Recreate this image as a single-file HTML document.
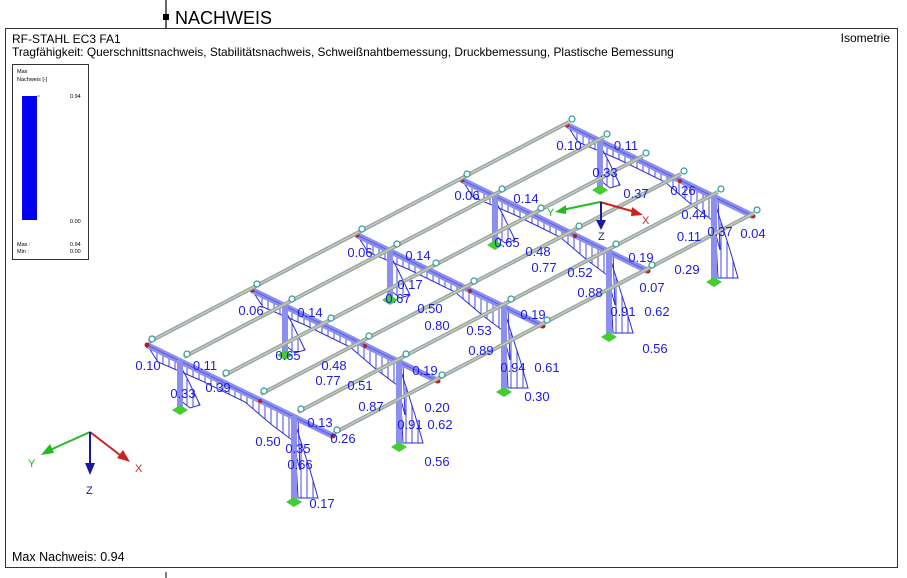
<!DOCTYPE html>
<html><head><meta charset="utf-8">
<style>
html,body{margin:0;padding:0;background:#fff;}
body{width:907px;height:578px;position:relative;overflow:hidden;font-family:"Liberation Sans",sans-serif;}
svg{position:absolute;left:0;top:0;}
</style></head><body>
<svg width="907" height="578" viewBox="0 0 907 578" xmlns="http://www.w3.org/2000/svg" font-family="Liberation Sans, sans-serif">
<defs>
<pattern id="h" width="6" height="6" patternUnits="userSpaceOnUse">
<line x1="1" y1="0" x2="1" y2="6" stroke="#3434e0" stroke-width="0.9"/>
</pattern>
<g id="fr">
<polygon points="147,345 158,362 200,380 245,402 272,425 292,440 300,470 298,418 333,436" fill="url(#h)" stroke="#2a2ae0" stroke-width="1"/>
<polygon points="180,365 188,380 200,405 190,408 180,400" fill="url(#h)" stroke="#2a2ae0" stroke-width="1"/>
<polygon points="294,420 310,470 318,498 298,498" fill="url(#h)" stroke="#2a2ae0" stroke-width="1"/>
<line x1="147" y1="345" x2="333" y2="436" stroke="#8c8ff0" stroke-width="6"/>
<line x1="147" y1="345" x2="333" y2="436" stroke="#5a5ee0" stroke-width="1"/>
<line x1="180" y1="360" x2="180" y2="408" stroke="#8c8ff0" stroke-width="6"/>
<line x1="294" y1="416" x2="294" y2="500" stroke="#8c8ff0" stroke-width="6"/>
<polygon points="172,410 180,405 188,410 180,415" fill="#44cc33"/>
<polygon points="286,502 294,497 302,502 294,507" fill="#44cc33"/>
<circle cx="147" cy="345" r="2.5" fill="#b02020"/>
<circle cx="333" cy="436" r="2.5" fill="#b02020"/>
<circle cx="260" cy="401" r="2" fill="#b02020"/>
</g>
<g id="pl">
<line x1="0" y1="0" x2="420" y2="-220" stroke="#9aa59c" stroke-width="4"/>
<line x1="0" y1="0" x2="420" y2="-220" stroke="#c8d0c8" stroke-width="1.2"/>
<circle cx="3" cy="-3" r="3" fill="#fff" stroke="#2a9a9a" stroke-width="1.2"/>
<circle cx="108" cy="-58" r="3" fill="#fff" stroke="#2a9a9a" stroke-width="1.2"/>
<circle cx="213" cy="-113" r="3" fill="#fff" stroke="#2a9a9a" stroke-width="1.2"/>
<circle cx="318" cy="-168" r="3" fill="#fff" stroke="#2a9a9a" stroke-width="1.2"/>
<circle cx="423" cy="-223" r="3" fill="#fff" stroke="#2a9a9a" stroke-width="1.2"/>
</g>
</defs>

<line x1="166" y1="0" x2="166" y2="28" stroke="#000" stroke-width="1.2"/>
<rect x="163" y="14" width="6" height="6" fill="#000"/>
<text x="175" y="24" font-size="18" fill="#000">NACHWEIS</text>
<rect x="5.5" y="28.5" width="892" height="539" fill="none" stroke="#333" stroke-width="1"/>
<line x1="166" y1="572" x2="166" y2="578" stroke="#000"/>
<text x="12" y="43" font-size="12">RF-STAHL EC3 FA1</text>
<text x="12" y="56" font-size="11.9">Tragfähigkeit: Querschnittsnachweis, Stabilitätsnachweis, Schweißnahtbemessung, Druckbemessung, Plastische Bemessung</text>
<text x="890" y="42" font-size="12" text-anchor="end">Isometrie</text>

<rect x="12.5" y="64.5" width="76" height="195" fill="#fff" stroke="#333"/>
<text x="17" y="73" font-size="5.5">Max</text>
<text x="17" y="81" font-size="5.5">Nachweis [-]</text>
<rect x="22" y="96" width="15" height="124" fill="#0000ee"/>
<line x1="37" y1="96" x2="40" y2="96" stroke="#888"/>
<text x="70" y="98" font-size="5.5">0.94</text>
<text x="70" y="223" font-size="5.5">0.00</text>
<text x="17" y="246" font-size="5.5">Max :</text>
<text x="17" y="253" font-size="5.5">Min :</text>
<text x="70" y="246" font-size="5.5">0.94</text>
<text x="70" y="253" font-size="5.5">0.00</text>

<use href="#fr" transform="translate(420,-220)"/>
<use href="#fr" transform="translate(315,-165)"/>
<use href="#fr" transform="translate(210,-110)"/>
<use href="#fr" transform="translate(105,-55)"/>
<use href="#fr"/>

<use href="#pl" transform="translate(149,342)"/>
<use href="#pl" transform="translate(184,357)"/>
<use href="#pl" transform="translate(223,376)"/>
<use href="#pl" transform="translate(261,394)"/>
<use href="#pl" transform="translate(298,412)"/>
<use href="#pl" transform="translate(334,433)"/>

<line x1="600" y1="202" x2="562" y2="210" stroke="#22bb22" stroke-width="2"/>
<polygon points="555,212 566,205 566,214" fill="#22bb22"/>
<text x="547" y="216" font-size="11" fill="#22aa22">Y</text>
<line x1="600" y1="202" x2="635" y2="212" stroke="#cc2222" stroke-width="2"/>
<polygon points="643,215 632,207 631,216" fill="#cc2222"/>
<text x="642" y="224" font-size="11" fill="#cc2222">X</text>
<line x1="601" y1="202" x2="601" y2="222" stroke="#1a1aa0" stroke-width="2"/>
<polygon points="596,220 606,220 601,230" fill="#1a1aa0"/>
<text x="598" y="240" font-size="11" fill="#1a1aa0">Z</text>

<line x1="90" y1="432" x2="50" y2="450" stroke="#22bb22" stroke-width="2"/>
<polygon points="41,455 50,444 54,453" fill="#22bb22"/>
<text x="28" y="467" font-size="11" fill="#22aa22">Y</text>
<line x1="90" y1="432" x2="120" y2="455" stroke="#cc2222" stroke-width="2"/>
<polygon points="130,462 117,458 123,450" fill="#cc2222"/>
<text x="135" y="472" font-size="11" fill="#cc2222">X</text>
<line x1="90" y1="432" x2="90" y2="465" stroke="#1a1aa0" stroke-width="2"/>
<polygon points="85,463 95,463 90,475" fill="#1a1aa0"/>
<text x="86" y="494" font-size="11" fill="#1a1aa0">Z</text>

<g font-size="13" fill="#1a1aee" text-anchor="middle">
<text x="148" y="370">0.10</text><text x="205" y="370">0.11</text>
<text x="183" y="398">0.33</text><text x="218" y="392">0.39</text>
<text x="268" y="446">0.50</text><text x="298" y="453">0.35</text>
<text x="300" y="469">0.66</text><text x="322" y="508">0.17</text>
<text x="320" y="427">0.13</text><text x="343" y="443">0.26</text>
<text x="371" y="411">0.87</text><text x="437" y="412">0.20</text>
<text x="410" y="429">0.91</text><text x="440" y="429">0.62</text>
<text x="437" y="466">0.56</text><text x="334" y="370">0.48</text>
<text x="328" y="385">0.77</text><text x="360" y="390">0.51</text>
<text x="425" y="375">0.19</text><text x="251" y="315">0.06</text>
<text x="310" y="317">0.14</text><text x="288" y="360">0.65</text>
<text x="410" y="289">0.17</text><text x="398" y="303">0.67</text>
<text x="430" y="313">0.50</text><text x="437" y="330">0.80</text>
<text x="479" y="335">0.53</text><text x="481" y="355">0.89</text>
<text x="513" y="372">0.94</text><text x="547" y="372">0.61</text>
<text x="537" y="401">0.30</text><text x="533" y="319">0.19</text>
<text x="360" y="257">0.06</text><text x="418" y="260">0.14</text>
<text x="507" y="247">0.65</text><text x="538" y="256">0.48</text>
<text x="544" y="272">0.77</text><text x="580" y="277">0.52</text>
<text x="590" y="297">0.88</text><text x="641" y="262">0.19</text>
<text x="652" y="292">0.07</text><text x="623" y="316">0.91</text>
<text x="657" y="316">0.62</text><text x="655" y="353">0.56</text>
<text x="687" y="274">0.29</text><text x="467" y="200">0.06</text>
<text x="526" y="203">0.14</text><text x="569" y="150">0.10</text>
<text x="626" y="150">0.11</text><text x="605" y="177">0.33</text>
<text x="636" y="198">0.37</text><text x="683" y="195">0.26</text>
<text x="694" y="219">0.44</text><text x="689" y="241">0.11</text>
<text x="720" y="236">0.37</text><text x="753" y="238">0.04</text>
</g>

<text x="12" y="561" font-size="12.5">Max Nachweis: 0.94</text>
</svg>
</body></html>
